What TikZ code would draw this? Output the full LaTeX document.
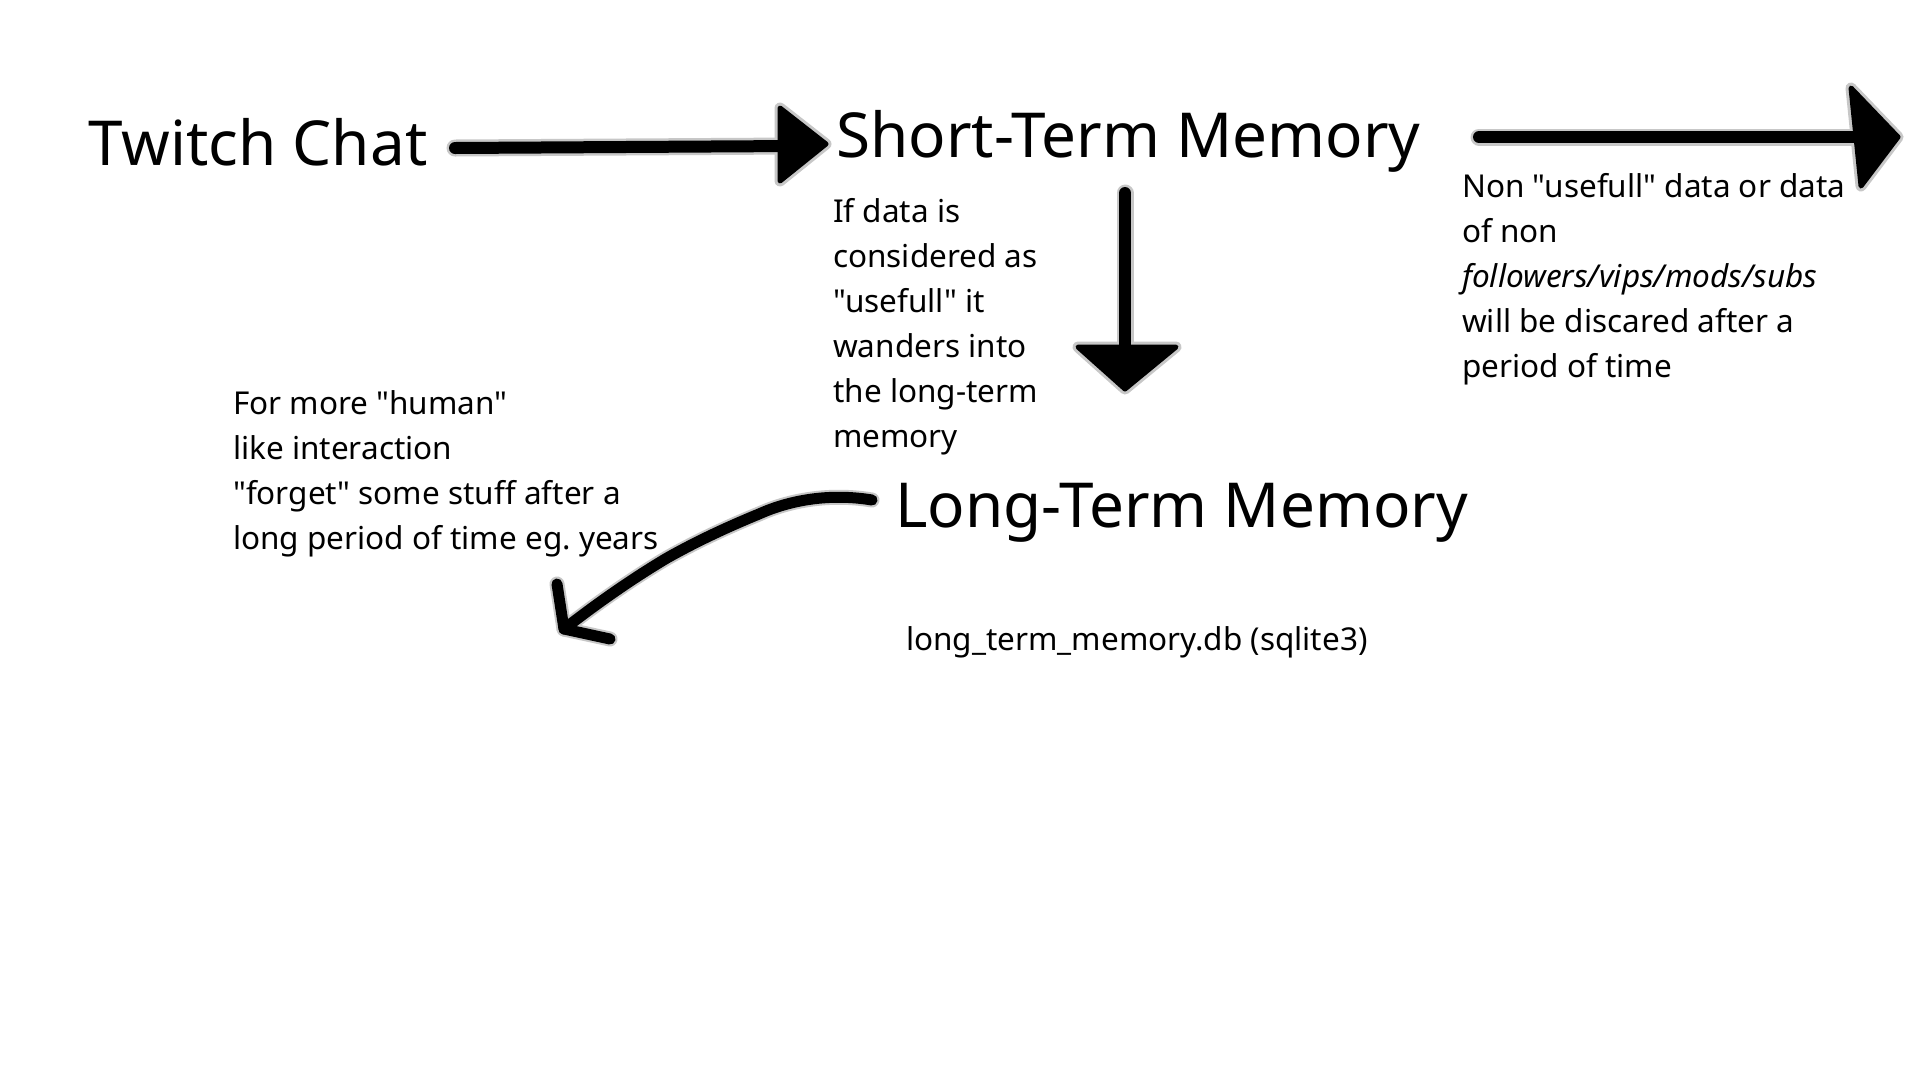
\documentclass[tikz,border=0pt]{standalone}
\usepackage{fontspec}
\setmainfont{Noto Sans}[Ligatures=TeXOff]
\usetikzlibrary{calc}
\frenchspacing
\begin{document}
\begin{tikzpicture}[x=1pt,y=-1pt,
  big/.style={font=\fontsize{62}{62}\selectfont, inner sep=0pt, anchor=base west},
  note/.style={font=\fontsize{31.5}{45}\selectfont, inner sep=0pt, anchor=base west, align=left},
  stroke/.style={line width=12pt, line cap=round, line join=round},
  halo/.style={line width=17pt, line cap=round, line join=round, black!22},
  headfill/.style={fill=black, draw=black, line width=5pt, line join=round},
  headhalo/.style={fill=black!22, draw=black!22, line width=11pt, line join=round},
]
\fill[white] (0,0) rectangle (1920,1080);
\useasboundingbox (0,0) rectangle (1920,1080);

% text nodes (multi-line notes are placed by the baseline of their last line)
\node[big] (tw) at (88,165) {Twitch Chat};
\node[big] (stm) at (836,157) {Short-Term Memory};
\node[big] (ltm) at (895,527) {Long-Term Memory};
\node[note] (n1) at (833,447) {If data is\\considered as\\"usefull" it\\wanders into\\the long-term\\memory};
\node[note] (n2) at (1462,377) {Non "usefull" data or data\\of non\\\textit{followers/vips/mods/subs}\\will be discared after a\\period of time};
\node[note] (n3) at (233,549) {For more "human"\\like interaction\\"forget" some stuff after a\\long period of time eg. years};
\node[note] (db) at (906,650) {long\_term\_memory.db (sqlite3)};

\coordinate (out) at (1898,137);
\coordinate (fg) at (564,629);

% arrow 1: Twitch Chat -> Short-Term Memory
\draw[halo] ([shift={(367,-17)}]tw.base west) -- ([shift={(-41,-11)}]stm.base west);
\begin{scope}[shift={(stm.base west)}]
  \draw[headhalo] (-56,-49) -- (-10,-13) -- (-56,24) -- cycle;
\end{scope}
\draw[stroke] ([shift={(367,-17)}]tw.base west) -- ([shift={(-41,-11)}]stm.base west);
\begin{scope}[shift={(stm.base west)}]
  \draw[headfill] (-56,-49) -- (-10,-13) -- (-56,24) -- cycle;
\end{scope}

% arrow 2: Short-Term Memory -> discard
\draw[halo] ([shift={(643,-20)}]stm.base west) -- ([shift={(-33,0)}]out);
\begin{scope}[shift={(out)}]
  \draw[headhalo] (-47,-49) -- (0,0) -- (-37,49) -- cycle;
\end{scope}
\draw[stroke] ([shift={(643,-20)}]stm.base west) -- ([shift={(-33,0)}]out);
\begin{scope}[shift={(out)}]
  \draw[headfill] (-47,-49) -- (0,0) -- (-37,49) -- cycle;
\end{scope}

% arrow 3: Short-Term Memory -> Long-Term Memory
\draw[halo] ([shift={(289,36)}]stm.base west) -- ([shift={(230,-167)}]ltm.base west);
\begin{scope}[shift={(ltm.base west)}]
  \draw[headhalo] (183,-180) -- (281,-180) -- (230,-138) -- cycle;
\end{scope}
\draw[stroke] ([shift={(289,36)}]stm.base west) -- ([shift={(230,-167)}]ltm.base west);
\begin{scope}[shift={(ltm.base west)}]
  \draw[headfill] (183,-180) -- (281,-180) -- (230,-138) -- cycle;
\end{scope}

% arrow 4: Long-Term Memory -> forget
\draw[halo, line width=15pt] ([shift={(-23,-27)}]ltm.base west) .. controls (830,493) and (790,500) .. (759,514) .. controls (720,530) and (690,545) .. (667,558) .. controls (630,580) and (595,605) .. (fg);
\draw[halo, line width=15pt] ([shift={(-7,-45)}]fg) -- (fg) -- ([shift={(46,10)}]fg);
\draw[stroke, line width=11pt] ([shift={(-23,-27)}]ltm.base west) .. controls (830,493) and (790,500) .. (759,514) .. controls (720,530) and (690,545) .. (667,558) .. controls (630,580) and (595,605) .. (fg);
\draw[stroke, line width=11pt] ([shift={(-7,-45)}]fg) -- (fg) -- ([shift={(46,10)}]fg);
\end{tikzpicture}
\end{document}
